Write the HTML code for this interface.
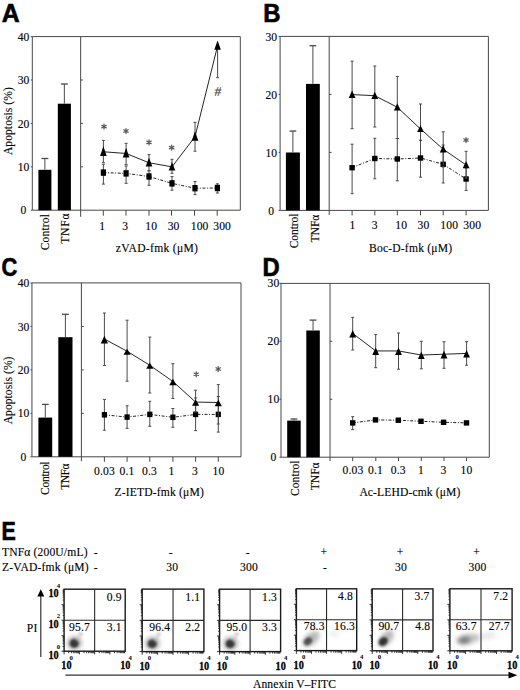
<!DOCTYPE html>
<html><head><meta charset="utf-8"><style>
html,body{margin:0;padding:0;background:#fff;}
body{width:520px;height:690px;overflow:hidden;}
svg{display:block;}
</style></head><body>
<svg width="520" height="690" viewBox="0 0 520 690">
<rect width="520" height="690" fill="#fff"/>
<text transform="translate(1.8 22.2)" font-family="'Liberation Sans',sans-serif" font-size="25" font-weight="bold" stroke="#000" stroke-width="0.6" textLength="17.9" lengthAdjust="spacingAndGlyphs">A</text>
<text transform="translate(263.3 22.2)" font-family="'Liberation Sans',sans-serif" font-size="25" font-weight="bold" stroke="#000" stroke-width="0.6" textLength="17.3" lengthAdjust="spacingAndGlyphs">B</text>
<text transform="translate(1.5 276.2)" font-family="'Liberation Sans',sans-serif" font-size="25" font-weight="bold" stroke="#000" stroke-width="0.6" textLength="15.8" lengthAdjust="spacingAndGlyphs">C</text>
<text transform="translate(262.6 276.4)" font-family="'Liberation Sans',sans-serif" font-size="25" font-weight="bold" stroke="#000" stroke-width="0.6" textLength="17.2" lengthAdjust="spacingAndGlyphs">D</text>
<text transform="translate(1.5 539.6)" font-family="'Liberation Sans',sans-serif" font-size="25" font-weight="bold" stroke="#000" stroke-width="0.6" textLength="14.3" lengthAdjust="spacingAndGlyphs">E</text>
<line x1="32.3" y1="36.6" x2="240.3" y2="36.6" stroke="#484848" stroke-width="1" />
<line x1="32.3" y1="210.2" x2="240.3" y2="210.2" stroke="#484848" stroke-width="1" />
<line x1="32.3" y1="36.6" x2="32.3" y2="210.2" stroke="#484848" stroke-width="1" />
<line x1="240.3" y1="36.6" x2="240.3" y2="210.2" stroke="#484848" stroke-width="1" />
<line x1="80.65" y1="36.6" x2="80.65" y2="216.8" stroke="#484848" stroke-width="1" />
<line x1="30.8" y1="210.2" x2="32.3" y2="210.2" stroke="#484848" stroke-width="1" />
<text transform="translate(23.5 214.3)" font-family="'Liberation Serif',serif" font-size="11.6" text-anchor="middle" stroke="#000" stroke-width="0.12">0</text>
<line x1="30.8" y1="166.8" x2="32.3" y2="166.8" stroke="#484848" stroke-width="1" />
<line x1="80.65" y1="166.8" x2="82.95" y2="166.8" stroke="#484848" stroke-width="1" />
<text transform="translate(23.5 170.9)" font-family="'Liberation Serif',serif" font-size="11.6" text-anchor="middle" stroke="#000" stroke-width="0.12">10</text>
<line x1="30.8" y1="123.4" x2="32.3" y2="123.4" stroke="#484848" stroke-width="1" />
<line x1="80.65" y1="123.4" x2="82.95" y2="123.4" stroke="#484848" stroke-width="1" />
<text transform="translate(23.5 127.5)" font-family="'Liberation Serif',serif" font-size="11.6" text-anchor="middle" stroke="#000" stroke-width="0.12">20</text>
<line x1="30.8" y1="80" x2="32.3" y2="80" stroke="#484848" stroke-width="1" />
<line x1="80.65" y1="80" x2="82.95" y2="80" stroke="#484848" stroke-width="1" />
<text transform="translate(23.5 84.1)" font-family="'Liberation Serif',serif" font-size="11.6" text-anchor="middle" stroke="#000" stroke-width="0.12">30</text>
<line x1="30.8" y1="36.6" x2="32.3" y2="36.6" stroke="#484848" stroke-width="1" />
<text transform="translate(23.5 40.7)" font-family="'Liberation Serif',serif" font-size="11.6" text-anchor="middle" stroke="#000" stroke-width="0.12">40</text>
<text transform="translate(11.7 155.1) rotate(-90)" font-family="'Liberation Serif',serif" font-size="11.6" stroke="#000" stroke-width="0.12" textLength="68" lengthAdjust="spacing">Apoptosis (%)</text>
<rect x="38.4" y="169.8" width="13" height="40.4" fill="#000"/>
<line x1="44.9" y1="158.5" x2="44.9" y2="169.8" stroke="#4a4a4a" stroke-width="1" />
<line x1="41.5" y1="158.5" x2="48.3" y2="158.5" stroke="#4a4a4a" stroke-width="1.3" />
<rect x="57.8" y="103.7" width="13.1" height="106.5" fill="#000"/>
<line x1="64.35" y1="84" x2="64.35" y2="103.7" stroke="#4a4a4a" stroke-width="1" />
<line x1="60.95" y1="84" x2="67.75" y2="84" stroke="#4a4a4a" stroke-width="1.3" />
<text transform="translate(48.8 250.3) rotate(-90)" font-family="'Liberation Serif',serif" font-size="11.6" stroke="#000" stroke-width="0.12" textLength="36.2" lengthAdjust="spacing">Control</text>
<text transform="translate(68.9 243.7) rotate(-90)" font-family="'Liberation Serif',serif" font-size="11.6" stroke="#000" stroke-width="0.12" textLength="30.2" lengthAdjust="spacing">TNFα</text>
<line x1="103.3" y1="210.2" x2="103.3" y2="215.7" stroke="#484848" stroke-width="1" />
<line x1="126" y1="210.2" x2="126" y2="215.7" stroke="#484848" stroke-width="1" />
<line x1="149" y1="210.2" x2="149" y2="215.7" stroke="#484848" stroke-width="1" />
<line x1="171.5" y1="210.2" x2="171.5" y2="215.7" stroke="#484848" stroke-width="1" />
<line x1="194.5" y1="210.2" x2="194.5" y2="215.7" stroke="#484848" stroke-width="1" />
<line x1="217.2" y1="210.2" x2="217.2" y2="215.7" stroke="#484848" stroke-width="1" />
<text transform="translate(102.1 229.6)" font-family="'Liberation Serif',serif" font-size="11.6" text-anchor="middle" stroke="#000" stroke-width="0.12" letter-spacing="0.15">1</text>
<text transform="translate(125.2 229.6)" font-family="'Liberation Serif',serif" font-size="11.6" text-anchor="middle" stroke="#000" stroke-width="0.12" letter-spacing="0.15">3</text>
<text transform="translate(151.3 229.6)" font-family="'Liberation Serif',serif" font-size="11.6" text-anchor="middle" stroke="#000" stroke-width="0.12" letter-spacing="0.15">10</text>
<text transform="translate(173.6 229.6)" font-family="'Liberation Serif',serif" font-size="11.6" text-anchor="middle" stroke="#000" stroke-width="0.12" letter-spacing="0.15">30</text>
<text transform="translate(199.6 229.6)" font-family="'Liberation Serif',serif" font-size="11.6" text-anchor="middle" stroke="#000" stroke-width="0.12" letter-spacing="0.15">100</text>
<text transform="translate(222.1 229.6)" font-family="'Liberation Serif',serif" font-size="11.6" text-anchor="middle" stroke="#000" stroke-width="0.12" letter-spacing="0.15">300</text>
<text transform="translate(115.8 251.8)" font-family="'Liberation Serif',serif" font-size="11.6" stroke="#000" stroke-width="0.12" textLength="82.2" lengthAdjust="spacing">zVAD-fmk (μM)</text>
<polyline points="103.4,172.6 126.1,173.4 149,176.5 172,183.4 195,188.2 217.4,188" fill="none" stroke="#222" stroke-width="1" stroke-dasharray="3 1.6 1 1.6"/>
<line x1="103.4" y1="164.3" x2="103.4" y2="184.1" stroke="#4a4a4a" stroke-width="1" />
<line x1="101.9" y1="164.3" x2="104.9" y2="164.3" stroke="#4a4a4a" stroke-width="1" />
<line x1="101.9" y1="184.1" x2="104.9" y2="184.1" stroke="#4a4a4a" stroke-width="1" />
<line x1="126.1" y1="166" x2="126.1" y2="183.3" stroke="#4a4a4a" stroke-width="1" />
<line x1="124.6" y1="166" x2="127.6" y2="166" stroke="#4a4a4a" stroke-width="1" />
<line x1="124.6" y1="183.3" x2="127.6" y2="183.3" stroke="#4a4a4a" stroke-width="1" />
<line x1="149" y1="170.8" x2="149" y2="185.3" stroke="#4a4a4a" stroke-width="1" />
<line x1="147.5" y1="170.8" x2="150.5" y2="170.8" stroke="#4a4a4a" stroke-width="1" />
<line x1="147.5" y1="185.3" x2="150.5" y2="185.3" stroke="#4a4a4a" stroke-width="1" />
<line x1="172" y1="176.6" x2="172" y2="190.2" stroke="#4a4a4a" stroke-width="1" />
<line x1="170.5" y1="176.6" x2="173.5" y2="176.6" stroke="#4a4a4a" stroke-width="1" />
<line x1="170.5" y1="190.2" x2="173.5" y2="190.2" stroke="#4a4a4a" stroke-width="1" />
<line x1="195" y1="181.5" x2="195" y2="194.6" stroke="#4a4a4a" stroke-width="1" />
<line x1="193.5" y1="181.5" x2="196.5" y2="181.5" stroke="#4a4a4a" stroke-width="1" />
<line x1="193.5" y1="194.6" x2="196.5" y2="194.6" stroke="#4a4a4a" stroke-width="1" />
<line x1="217.4" y1="183.8" x2="217.4" y2="193" stroke="#4a4a4a" stroke-width="1" />
<line x1="215.9" y1="183.8" x2="218.9" y2="183.8" stroke="#4a4a4a" stroke-width="1" />
<line x1="215.9" y1="193" x2="218.9" y2="193" stroke="#4a4a4a" stroke-width="1" />
<rect x="100.8" y="169.4" width="5.2" height="6.4" fill="#000"/>
<rect x="123.5" y="170.2" width="5.2" height="6.4" fill="#000"/>
<rect x="146.4" y="173.3" width="5.2" height="6.4" fill="#000"/>
<rect x="169.4" y="180.2" width="5.2" height="6.4" fill="#000"/>
<rect x="192.4" y="185" width="5.2" height="6.4" fill="#000"/>
<rect x="214.8" y="184.8" width="5.2" height="6.4" fill="#000"/>
<polyline points="103.4,151.77 126.1,153.47 149,162.76 172,166.84 195,136.72 217.6,45.8" fill="none" stroke="#1a1a1a" stroke-width="0.95"/>
<line x1="103.4" y1="140.4" x2="103.4" y2="162.7" stroke="#4a4a4a" stroke-width="1" />
<line x1="101.9" y1="140.4" x2="104.9" y2="140.4" stroke="#4a4a4a" stroke-width="1" />
<line x1="101.9" y1="162.7" x2="104.9" y2="162.7" stroke="#4a4a4a" stroke-width="1" />
<line x1="126.1" y1="143.3" x2="126.1" y2="164.6" stroke="#4a4a4a" stroke-width="1" />
<line x1="124.6" y1="143.3" x2="127.6" y2="143.3" stroke="#4a4a4a" stroke-width="1" />
<line x1="124.6" y1="164.6" x2="127.6" y2="164.6" stroke="#4a4a4a" stroke-width="1" />
<line x1="149" y1="154.6" x2="149" y2="170.7" stroke="#4a4a4a" stroke-width="1" />
<line x1="147.5" y1="154.6" x2="150.5" y2="154.6" stroke="#4a4a4a" stroke-width="1" />
<line x1="147.5" y1="170.7" x2="150.5" y2="170.7" stroke="#4a4a4a" stroke-width="1" />
<line x1="172" y1="159.3" x2="172" y2="173.3" stroke="#4a4a4a" stroke-width="1" />
<line x1="170.5" y1="159.3" x2="173.5" y2="159.3" stroke="#4a4a4a" stroke-width="1" />
<line x1="170.5" y1="173.3" x2="173.5" y2="173.3" stroke="#4a4a4a" stroke-width="1" />
<line x1="195" y1="122.3" x2="195" y2="151.2" stroke="#4a4a4a" stroke-width="1" />
<line x1="193.5" y1="122.3" x2="196.5" y2="122.3" stroke="#4a4a4a" stroke-width="1" />
<line x1="193.5" y1="151.2" x2="196.5" y2="151.2" stroke="#4a4a4a" stroke-width="1" />
<line x1="217.6" y1="45.15" x2="217.6" y2="77.7" stroke="#4a4a4a" stroke-width="1" />
<line x1="216.1" y1="77.7" x2="219.1" y2="77.7" stroke="#4a4a4a" stroke-width="1" />
<polygon points="100.1,155.9 106.7,155.9 103.4,146.3" fill="#000"/>
<polygon points="122.8,157.6 129.4,157.6 126.1,148" fill="#000"/>
<polygon points="145.7,166.5 152.3,166.5 149,157.8" fill="#000"/>
<polygon points="168.7,170.5 175.3,170.5 172,162" fill="#000"/>
<polygon points="191.7,140.8 198.3,140.8 195,131.3" fill="#000"/>
<polygon points="214.3,49.8 220.9,49.8 217.6,40.5" fill="#000"/>
<path d="M104 129.1L104 124.1M101.83 127.85L106.17 125.35M101.83 125.35L106.17 127.85" stroke="#5a5a5a" stroke-width="1.25" stroke-linecap="round" fill="none"/>
<path d="M126 133.5L126 128.5M123.83 132.25L128.17 129.75M123.83 129.75L128.17 132.25" stroke="#5a5a5a" stroke-width="1.25" stroke-linecap="round" fill="none"/>
<path d="M149 144.9L149 139.9M146.83 143.65L151.17 141.15M146.83 141.15L151.17 143.65" stroke="#5a5a5a" stroke-width="1.25" stroke-linecap="round" fill="none"/>
<path d="M171.7 150.1L171.7 145.1M169.53 148.85L173.87 146.35M169.53 146.35L173.87 148.85" stroke="#5a5a5a" stroke-width="1.25" stroke-linecap="round" fill="none"/>
<text transform="translate(217.3 95.6) skewX(-7)" font-family="Liberation Serif" font-size="13.5" text-anchor="middle" fill="#444" stroke="#444" stroke-width="0.15">#</text>
<line x1="280.1" y1="36.4" x2="488.4" y2="36.4" stroke="#484848" stroke-width="1" />
<line x1="280.1" y1="210.4" x2="488.4" y2="210.4" stroke="#484848" stroke-width="1" />
<line x1="280.1" y1="36.4" x2="280.1" y2="210.4" stroke="#484848" stroke-width="1" />
<line x1="488.4" y1="36.4" x2="488.4" y2="210.4" stroke="#484848" stroke-width="1" />
<line x1="329.2" y1="36.4" x2="329.2" y2="214.9" stroke="#484848" stroke-width="1" />
<line x1="278.6" y1="210.4" x2="280.1" y2="210.4" stroke="#484848" stroke-width="1" />
<text transform="translate(271.2 214.5)" font-family="'Liberation Serif',serif" font-size="11.6" text-anchor="middle" stroke="#000" stroke-width="0.12">0</text>
<line x1="278.6" y1="152.4" x2="280.1" y2="152.4" stroke="#484848" stroke-width="1" />
<line x1="329.2" y1="152.4" x2="331.5" y2="152.4" stroke="#484848" stroke-width="1" />
<text transform="translate(271.2 156.5)" font-family="'Liberation Serif',serif" font-size="11.6" text-anchor="middle" stroke="#000" stroke-width="0.12">10</text>
<line x1="278.6" y1="94.4" x2="280.1" y2="94.4" stroke="#484848" stroke-width="1" />
<line x1="329.2" y1="94.4" x2="331.5" y2="94.4" stroke="#484848" stroke-width="1" />
<text transform="translate(271.2 98.5)" font-family="'Liberation Serif',serif" font-size="11.6" text-anchor="middle" stroke="#000" stroke-width="0.12">20</text>
<line x1="278.6" y1="36.4" x2="280.1" y2="36.4" stroke="#484848" stroke-width="1" />
<text transform="translate(271.2 40.5)" font-family="'Liberation Serif',serif" font-size="11.6" text-anchor="middle" stroke="#000" stroke-width="0.12">30</text>
<rect x="285.9" y="152.5" width="14" height="57.9" fill="#000"/>
<line x1="292.9" y1="131.1" x2="292.9" y2="152.5" stroke="#4a4a4a" stroke-width="1" />
<line x1="289.5" y1="131.1" x2="296.3" y2="131.1" stroke="#4a4a4a" stroke-width="1.3" />
<rect x="306" y="83.9" width="13.8" height="126.5" fill="#000"/>
<line x1="312.9" y1="45.7" x2="312.9" y2="83.9" stroke="#4a4a4a" stroke-width="1" />
<line x1="309.5" y1="45.7" x2="316.3" y2="45.7" stroke="#4a4a4a" stroke-width="1.3" />
<text transform="translate(298 248.3) rotate(-90)" font-family="'Liberation Serif',serif" font-size="11.6" stroke="#000" stroke-width="0.12" textLength="34.7" lengthAdjust="spacing">Control</text>
<text transform="translate(318.8 242.5) rotate(-90)" font-family="'Liberation Serif',serif" font-size="11.6" stroke="#000" stroke-width="0.12" textLength="27.9" lengthAdjust="spacing">TNFα</text>
<line x1="352.1" y1="210.4" x2="352.1" y2="215.4" stroke="#484848" stroke-width="1" />
<line x1="374.8" y1="210.4" x2="374.8" y2="215.4" stroke="#484848" stroke-width="1" />
<line x1="397.3" y1="210.4" x2="397.3" y2="215.4" stroke="#484848" stroke-width="1" />
<line x1="420.5" y1="210.4" x2="420.5" y2="215.4" stroke="#484848" stroke-width="1" />
<line x1="443.2" y1="210.4" x2="443.2" y2="215.4" stroke="#484848" stroke-width="1" />
<line x1="466.1" y1="210.4" x2="466.1" y2="215.4" stroke="#484848" stroke-width="1" />
<text transform="translate(352.5 228.8)" font-family="'Liberation Serif',serif" font-size="11.6" text-anchor="middle" stroke="#000" stroke-width="0.12" letter-spacing="0.15">1</text>
<text transform="translate(374.7 228.8)" font-family="'Liberation Serif',serif" font-size="11.6" text-anchor="middle" stroke="#000" stroke-width="0.12" letter-spacing="0.15">3</text>
<text transform="translate(401.2 228.8)" font-family="'Liberation Serif',serif" font-size="11.6" text-anchor="middle" stroke="#000" stroke-width="0.12" letter-spacing="0.15">10</text>
<text transform="translate(423.4 228.8)" font-family="'Liberation Serif',serif" font-size="11.6" text-anchor="middle" stroke="#000" stroke-width="0.12" letter-spacing="0.15">30</text>
<text transform="translate(449.2 228.8)" font-family="'Liberation Serif',serif" font-size="11.6" text-anchor="middle" stroke="#000" stroke-width="0.12" letter-spacing="0.15">100</text>
<text transform="translate(472.2 228.8)" font-family="'Liberation Serif',serif" font-size="11.6" text-anchor="middle" stroke="#000" stroke-width="0.12" letter-spacing="0.15">300</text>
<text transform="translate(369 252.4)" font-family="'Liberation Serif',serif" font-size="11.6" stroke="#000" stroke-width="0.12" textLength="83" lengthAdjust="spacing">Boc-D-fmk (μM)</text>
<polyline points="352.1,167.7 374.8,158.5 397.3,159 420.5,158 443.2,164.3 466.1,179" fill="none" stroke="#222" stroke-width="1" stroke-dasharray="3 1.6 1 1.6"/>
<line x1="352.1" y1="144.2" x2="352.1" y2="193.7" stroke="#4a4a4a" stroke-width="1" />
<line x1="350.6" y1="144.2" x2="353.6" y2="144.2" stroke="#4a4a4a" stroke-width="1" />
<line x1="350.6" y1="193.7" x2="353.6" y2="193.7" stroke="#4a4a4a" stroke-width="1" />
<line x1="374.8" y1="138.3" x2="374.8" y2="178.8" stroke="#4a4a4a" stroke-width="1" />
<line x1="373.3" y1="138.3" x2="376.3" y2="138.3" stroke="#4a4a4a" stroke-width="1" />
<line x1="373.3" y1="178.8" x2="376.3" y2="178.8" stroke="#4a4a4a" stroke-width="1" />
<line x1="397.3" y1="138.5" x2="397.3" y2="180.8" stroke="#4a4a4a" stroke-width="1" />
<line x1="395.8" y1="138.5" x2="398.8" y2="138.5" stroke="#4a4a4a" stroke-width="1" />
<line x1="395.8" y1="180.8" x2="398.8" y2="180.8" stroke="#4a4a4a" stroke-width="1" />
<line x1="420.5" y1="140.4" x2="420.5" y2="177.2" stroke="#4a4a4a" stroke-width="1" />
<line x1="419" y1="140.4" x2="422" y2="140.4" stroke="#4a4a4a" stroke-width="1" />
<line x1="419" y1="177.2" x2="422" y2="177.2" stroke="#4a4a4a" stroke-width="1" />
<line x1="443.2" y1="145" x2="443.2" y2="183" stroke="#4a4a4a" stroke-width="1" />
<line x1="441.7" y1="145" x2="444.7" y2="145" stroke="#4a4a4a" stroke-width="1" />
<line x1="441.7" y1="183" x2="444.7" y2="183" stroke="#4a4a4a" stroke-width="1" />
<line x1="466.1" y1="168" x2="466.1" y2="190.4" stroke="#4a4a4a" stroke-width="1" />
<line x1="464.6" y1="168" x2="467.6" y2="168" stroke="#4a4a4a" stroke-width="1" />
<line x1="464.6" y1="190.4" x2="467.6" y2="190.4" stroke="#4a4a4a" stroke-width="1" />
<rect x="349.4" y="165" width="5.4" height="5.4" fill="#000"/>
<rect x="372.1" y="155.8" width="5.4" height="5.4" fill="#000"/>
<rect x="394.6" y="156.3" width="5.4" height="5.4" fill="#000"/>
<rect x="417.8" y="155.3" width="5.4" height="5.4" fill="#000"/>
<rect x="440.5" y="161.6" width="5.4" height="5.4" fill="#000"/>
<rect x="463.4" y="176.3" width="5.4" height="5.4" fill="#000"/>
<polyline points="352.1,94.57 374.8,95.7 397.3,107.26 420.5,128.98 443.2,149.21 466.1,164.96" fill="none" stroke="#1a1a1a" stroke-width="0.95"/>
<line x1="352.1" y1="61.2" x2="352.1" y2="128.7" stroke="#4a4a4a" stroke-width="1" />
<line x1="350.6" y1="61.2" x2="353.6" y2="61.2" stroke="#4a4a4a" stroke-width="1" />
<line x1="350.6" y1="128.7" x2="353.6" y2="128.7" stroke="#4a4a4a" stroke-width="1" />
<line x1="374.8" y1="66" x2="374.8" y2="127" stroke="#4a4a4a" stroke-width="1" />
<line x1="373.3" y1="66" x2="376.3" y2="66" stroke="#4a4a4a" stroke-width="1" />
<line x1="373.3" y1="127" x2="376.3" y2="127" stroke="#4a4a4a" stroke-width="1" />
<line x1="397.3" y1="76.5" x2="397.3" y2="138.5" stroke="#4a4a4a" stroke-width="1" />
<line x1="395.8" y1="76.5" x2="398.8" y2="76.5" stroke="#4a4a4a" stroke-width="1" />
<line x1="395.8" y1="138.5" x2="398.8" y2="138.5" stroke="#4a4a4a" stroke-width="1" />
<line x1="420.5" y1="104" x2="420.5" y2="140.4" stroke="#4a4a4a" stroke-width="1" />
<line x1="419" y1="104" x2="422" y2="104" stroke="#4a4a4a" stroke-width="1" />
<line x1="419" y1="140.4" x2="422" y2="140.4" stroke="#4a4a4a" stroke-width="1" />
<line x1="443.2" y1="131.8" x2="443.2" y2="167" stroke="#4a4a4a" stroke-width="1" />
<line x1="441.7" y1="131.8" x2="444.7" y2="131.8" stroke="#4a4a4a" stroke-width="1" />
<line x1="441.7" y1="167" x2="444.7" y2="167" stroke="#4a4a4a" stroke-width="1" />
<line x1="466.1" y1="151.3" x2="466.1" y2="178" stroke="#4a4a4a" stroke-width="1" />
<line x1="464.6" y1="151.3" x2="467.6" y2="151.3" stroke="#4a4a4a" stroke-width="1" />
<line x1="464.6" y1="178" x2="467.6" y2="178" stroke="#4a4a4a" stroke-width="1" />
<polygon points="348.7,97.9 355.5,97.9 352.1,90.5" fill="#000"/>
<polygon points="371.4,98.9 378.2,98.9 374.8,91.8" fill="#000"/>
<polygon points="393.9,110.5 400.7,110.5 397.3,103.3" fill="#000"/>
<polygon points="417.1,132 423.9,132 420.5,125.3" fill="#000"/>
<polygon points="439.8,152.4 446.6,152.4 443.2,145.3" fill="#000"/>
<polygon points="462.7,168.2 469.5,168.2 466.1,161" fill="#000"/>
<path d="M466 142.5L466 137.5M463.83 141.25L468.17 138.75M463.83 138.75L468.17 141.25" stroke="#5a5a5a" stroke-width="1.25" stroke-linecap="round" fill="none"/>
<line x1="31.95" y1="282.9" x2="241" y2="282.9" stroke="#484848" stroke-width="1" />
<line x1="31.95" y1="456.8" x2="241" y2="456.8" stroke="#484848" stroke-width="1" />
<line x1="31.95" y1="282.9" x2="31.95" y2="456.8" stroke="#484848" stroke-width="1" />
<line x1="241" y1="282.9" x2="241" y2="456.8" stroke="#484848" stroke-width="1" />
<line x1="81.4" y1="282.9" x2="81.4" y2="461.1" stroke="#484848" stroke-width="1" />
<line x1="30.45" y1="456.8" x2="31.95" y2="456.8" stroke="#484848" stroke-width="1" />
<text transform="translate(23.5 460.9)" font-family="'Liberation Serif',serif" font-size="11.6" text-anchor="middle" stroke="#000" stroke-width="0.12">0</text>
<line x1="30.45" y1="413.35" x2="31.95" y2="413.35" stroke="#484848" stroke-width="1" />
<line x1="81.4" y1="413.35" x2="83.7" y2="413.35" stroke="#484848" stroke-width="1" />
<text transform="translate(23.5 417.45)" font-family="'Liberation Serif',serif" font-size="11.6" text-anchor="middle" stroke="#000" stroke-width="0.12">10</text>
<line x1="30.45" y1="369.9" x2="31.95" y2="369.9" stroke="#484848" stroke-width="1" />
<line x1="81.4" y1="369.9" x2="83.7" y2="369.9" stroke="#484848" stroke-width="1" />
<text transform="translate(23.5 374)" font-family="'Liberation Serif',serif" font-size="11.6" text-anchor="middle" stroke="#000" stroke-width="0.12">20</text>
<line x1="30.45" y1="326.45" x2="31.95" y2="326.45" stroke="#484848" stroke-width="1" />
<line x1="81.4" y1="326.45" x2="83.7" y2="326.45" stroke="#484848" stroke-width="1" />
<text transform="translate(23.5 330.55)" font-family="'Liberation Serif',serif" font-size="11.6" text-anchor="middle" stroke="#000" stroke-width="0.12">30</text>
<line x1="30.45" y1="283" x2="31.95" y2="283" stroke="#484848" stroke-width="1" />
<text transform="translate(23.5 287.1)" font-family="'Liberation Serif',serif" font-size="11.6" text-anchor="middle" stroke="#000" stroke-width="0.12">40</text>
<text transform="translate(11.7 424.3) rotate(-90)" font-family="'Liberation Serif',serif" font-size="11.6" stroke="#000" stroke-width="0.12" textLength="67.8" lengthAdjust="spacing">Apoptosis (%)</text>
<rect x="38.4" y="417.6" width="13.8" height="39.2" fill="#000"/>
<line x1="45.3" y1="404.4" x2="45.3" y2="417.6" stroke="#4a4a4a" stroke-width="1" />
<line x1="41.9" y1="404.4" x2="48.7" y2="404.4" stroke="#4a4a4a" stroke-width="1.3" />
<rect x="58.3" y="337.2" width="14.2" height="119.6" fill="#000"/>
<line x1="65.4" y1="314.3" x2="65.4" y2="337.2" stroke="#4a4a4a" stroke-width="1" />
<line x1="62" y1="314.3" x2="68.8" y2="314.3" stroke="#4a4a4a" stroke-width="1.3" />
<text transform="translate(48.7 494.9) rotate(-90)" font-family="'Liberation Serif',serif" font-size="11.6" stroke="#000" stroke-width="0.12" textLength="33.5" lengthAdjust="spacing">Control</text>
<text transform="translate(69.4 489.8) rotate(-90)" font-family="'Liberation Serif',serif" font-size="11.6" stroke="#000" stroke-width="0.12" textLength="26.4" lengthAdjust="spacing">TNFα</text>
<line x1="104.4" y1="456.8" x2="104.4" y2="461.8" stroke="#484848" stroke-width="1" />
<line x1="127.1" y1="456.8" x2="127.1" y2="461.8" stroke="#484848" stroke-width="1" />
<line x1="149.8" y1="456.8" x2="149.8" y2="461.8" stroke="#484848" stroke-width="1" />
<line x1="172.9" y1="456.8" x2="172.9" y2="461.8" stroke="#484848" stroke-width="1" />
<line x1="195.6" y1="456.8" x2="195.6" y2="461.8" stroke="#484848" stroke-width="1" />
<line x1="218.3" y1="456.8" x2="218.3" y2="461.8" stroke="#484848" stroke-width="1" />
<text transform="translate(104.5 475.2)" font-family="'Liberation Serif',serif" font-size="11.6" text-anchor="middle" stroke="#000" stroke-width="0.12" letter-spacing="0.15">0.03</text>
<text transform="translate(126.9 475.2)" font-family="'Liberation Serif',serif" font-size="11.6" text-anchor="middle" stroke="#000" stroke-width="0.12" letter-spacing="0.15">0.1</text>
<text transform="translate(149.4 475.2)" font-family="'Liberation Serif',serif" font-size="11.6" text-anchor="middle" stroke="#000" stroke-width="0.12" letter-spacing="0.15">0.3</text>
<text transform="translate(171.5 475.2)" font-family="'Liberation Serif',serif" font-size="11.6" text-anchor="middle" stroke="#000" stroke-width="0.12" letter-spacing="0.15">1</text>
<text transform="translate(195 475.2)" font-family="'Liberation Serif',serif" font-size="11.6" text-anchor="middle" stroke="#000" stroke-width="0.12" letter-spacing="0.15">3</text>
<text transform="translate(218.5 475.2)" font-family="'Liberation Serif',serif" font-size="11.6" text-anchor="middle" stroke="#000" stroke-width="0.12" letter-spacing="0.15">10</text>
<text transform="translate(114.4 496.4)" font-family="'Liberation Serif',serif" font-size="11.6" stroke="#000" stroke-width="0.12" textLength="89.4" lengthAdjust="spacing">Z-IETD-fmk (μM)</text>
<polyline points="104.4,414.8 127.1,417.1 149.8,414.4 172.9,417.3 195.6,414.4 218.3,414.4" fill="none" stroke="#222" stroke-width="1" stroke-dasharray="3 1.6 1 1.6"/>
<line x1="104.4" y1="399.4" x2="104.4" y2="430.2" stroke="#4a4a4a" stroke-width="1" />
<line x1="102.9" y1="399.4" x2="105.9" y2="399.4" stroke="#4a4a4a" stroke-width="1" />
<line x1="102.9" y1="430.2" x2="105.9" y2="430.2" stroke="#4a4a4a" stroke-width="1" />
<line x1="127.1" y1="405.8" x2="127.1" y2="428.3" stroke="#4a4a4a" stroke-width="1" />
<line x1="125.6" y1="405.8" x2="128.6" y2="405.8" stroke="#4a4a4a" stroke-width="1" />
<line x1="125.6" y1="428.3" x2="128.6" y2="428.3" stroke="#4a4a4a" stroke-width="1" />
<line x1="149.8" y1="401.3" x2="149.8" y2="426.3" stroke="#4a4a4a" stroke-width="1" />
<line x1="148.3" y1="401.3" x2="151.3" y2="401.3" stroke="#4a4a4a" stroke-width="1" />
<line x1="148.3" y1="426.3" x2="151.3" y2="426.3" stroke="#4a4a4a" stroke-width="1" />
<line x1="172.9" y1="408.5" x2="172.9" y2="427.3" stroke="#4a4a4a" stroke-width="1" />
<line x1="171.4" y1="408.5" x2="174.4" y2="408.5" stroke="#4a4a4a" stroke-width="1" />
<line x1="171.4" y1="427.3" x2="174.4" y2="427.3" stroke="#4a4a4a" stroke-width="1" />
<line x1="195.6" y1="398" x2="195.6" y2="430.6" stroke="#4a4a4a" stroke-width="1" />
<line x1="194.1" y1="398" x2="197.1" y2="398" stroke="#4a4a4a" stroke-width="1" />
<line x1="194.1" y1="430.6" x2="197.1" y2="430.6" stroke="#4a4a4a" stroke-width="1" />
<line x1="218.3" y1="396.5" x2="218.3" y2="432.1" stroke="#4a4a4a" stroke-width="1" />
<line x1="216.8" y1="396.5" x2="219.8" y2="396.5" stroke="#4a4a4a" stroke-width="1" />
<line x1="216.8" y1="432.1" x2="219.8" y2="432.1" stroke="#4a4a4a" stroke-width="1" />
<rect x="101.8" y="412.05" width="5.2" height="5.5" fill="#000"/>
<rect x="124.5" y="414.35" width="5.2" height="5.5" fill="#000"/>
<rect x="147.2" y="411.65" width="5.2" height="5.5" fill="#000"/>
<rect x="170.3" y="414.55" width="5.2" height="5.5" fill="#000"/>
<rect x="193" y="411.65" width="5.2" height="5.5" fill="#000"/>
<rect x="215.7" y="411.65" width="5.2" height="5.5" fill="#000"/>
<polyline points="104.4,339.03 127.1,351.26 149.8,365.26 172.9,381.49 195.6,402.09 218.3,402.49" fill="none" stroke="#1a1a1a" stroke-width="0.95"/>
<line x1="104.4" y1="313" x2="104.4" y2="365.5" stroke="#4a4a4a" stroke-width="1" />
<line x1="102.9" y1="313" x2="105.9" y2="313" stroke="#4a4a4a" stroke-width="1" />
<line x1="102.9" y1="365.5" x2="105.9" y2="365.5" stroke="#4a4a4a" stroke-width="1" />
<line x1="127.1" y1="320.2" x2="127.1" y2="381.2" stroke="#4a4a4a" stroke-width="1" />
<line x1="125.6" y1="320.2" x2="128.6" y2="320.2" stroke="#4a4a4a" stroke-width="1" />
<line x1="125.6" y1="381.2" x2="128.6" y2="381.2" stroke="#4a4a4a" stroke-width="1" />
<line x1="149.8" y1="337.1" x2="149.8" y2="393" stroke="#4a4a4a" stroke-width="1" />
<line x1="148.3" y1="337.1" x2="151.3" y2="337.1" stroke="#4a4a4a" stroke-width="1" />
<line x1="148.3" y1="393" x2="151.3" y2="393" stroke="#4a4a4a" stroke-width="1" />
<line x1="172.9" y1="363.7" x2="172.9" y2="398.5" stroke="#4a4a4a" stroke-width="1" />
<line x1="171.4" y1="363.7" x2="174.4" y2="363.7" stroke="#4a4a4a" stroke-width="1" />
<line x1="171.4" y1="398.5" x2="174.4" y2="398.5" stroke="#4a4a4a" stroke-width="1" />
<line x1="195.6" y1="390.2" x2="195.6" y2="412" stroke="#4a4a4a" stroke-width="1" />
<line x1="194.1" y1="390.2" x2="197.1" y2="390.2" stroke="#4a4a4a" stroke-width="1" />
<line x1="194.1" y1="412" x2="197.1" y2="412" stroke="#4a4a4a" stroke-width="1" />
<line x1="218.3" y1="384.6" x2="218.3" y2="424" stroke="#4a4a4a" stroke-width="1" />
<line x1="216.8" y1="384.6" x2="219.8" y2="384.6" stroke="#4a4a4a" stroke-width="1" />
<line x1="216.8" y1="424" x2="219.8" y2="424" stroke="#4a4a4a" stroke-width="1" />
<polygon points="100.8,343.5 108,343.5 104.4,335.8" fill="#000"/>
<polygon points="123.5,354.8 130.7,354.8 127.1,348.7" fill="#000"/>
<polygon points="146.2,368.8 153.4,368.8 149.8,362.7" fill="#000"/>
<polygon points="169.3,385.2 176.5,385.2 172.9,378.8" fill="#000"/>
<polygon points="192,405.8 199.2,405.8 195.6,399.4" fill="#000"/>
<polygon points="214.7,406.2 221.9,406.2 218.3,399.8" fill="#000"/>
<path d="M196.2 376.8L196.2 371.8M194.03 375.55L198.37 373.05M194.03 373.05L198.37 375.55" stroke="#5a5a5a" stroke-width="1.25" stroke-linecap="round" fill="none"/>
<path d="M218.2 371.5L218.2 366.5M216.03 370.25L220.37 367.75M216.03 367.75L220.37 370.25" stroke="#5a5a5a" stroke-width="1.25" stroke-linecap="round" fill="none"/>
<line x1="281" y1="283.4" x2="489.3" y2="283.4" stroke="#484848" stroke-width="1" />
<line x1="281" y1="457.2" x2="489.3" y2="457.2" stroke="#484848" stroke-width="1" />
<line x1="281" y1="283.4" x2="281" y2="457.2" stroke="#484848" stroke-width="1" />
<line x1="489.3" y1="283.4" x2="489.3" y2="457.2" stroke="#484848" stroke-width="1" />
<line x1="330" y1="283.4" x2="330" y2="461.1" stroke="#484848" stroke-width="1" />
<line x1="279.5" y1="457.2" x2="281" y2="457.2" stroke="#484848" stroke-width="1" />
<text transform="translate(273.4 461.3)" font-family="'Liberation Serif',serif" font-size="11.6" text-anchor="middle" stroke="#000" stroke-width="0.12">0</text>
<line x1="279.5" y1="399.25" x2="281" y2="399.25" stroke="#484848" stroke-width="1" />
<line x1="330" y1="399.25" x2="332.3" y2="399.25" stroke="#484848" stroke-width="1" />
<text transform="translate(273.4 403.35)" font-family="'Liberation Serif',serif" font-size="11.6" text-anchor="middle" stroke="#000" stroke-width="0.12">10</text>
<line x1="279.5" y1="341.3" x2="281" y2="341.3" stroke="#484848" stroke-width="1" />
<line x1="330" y1="341.3" x2="332.3" y2="341.3" stroke="#484848" stroke-width="1" />
<text transform="translate(273.4 345.4)" font-family="'Liberation Serif',serif" font-size="11.6" text-anchor="middle" stroke="#000" stroke-width="0.12">20</text>
<line x1="279.5" y1="283.35" x2="281" y2="283.35" stroke="#484848" stroke-width="1" />
<text transform="translate(273.4 287.45)" font-family="'Liberation Serif',serif" font-size="11.6" text-anchor="middle" stroke="#000" stroke-width="0.12">30</text>
<rect x="287.2" y="420.6" width="13.5" height="36.6" fill="#000"/>
<line x1="293.95" y1="419" x2="293.95" y2="420.6" stroke="#4a4a4a" stroke-width="1" />
<line x1="290.55" y1="419" x2="297.35" y2="419" stroke="#4a4a4a" stroke-width="1.3" />
<rect x="306.3" y="330.5" width="13.5" height="126.7" fill="#000"/>
<line x1="313.05" y1="320.1" x2="313.05" y2="330.5" stroke="#4a4a4a" stroke-width="1" />
<line x1="309.65" y1="320.1" x2="316.45" y2="320.1" stroke="#4a4a4a" stroke-width="1.3" />
<text transform="translate(299 496) rotate(-90)" font-family="'Liberation Serif',serif" font-size="11.6" stroke="#000" stroke-width="0.12" textLength="35.6" lengthAdjust="spacing">Control</text>
<text transform="translate(318.7 490.2) rotate(-90)" font-family="'Liberation Serif',serif" font-size="11.6" stroke="#000" stroke-width="0.12" textLength="27.9" lengthAdjust="spacing">TNFα</text>
<line x1="352.7" y1="457.2" x2="352.7" y2="461.1" stroke="#484848" stroke-width="1" />
<line x1="375.8" y1="457.2" x2="375.8" y2="461.1" stroke="#484848" stroke-width="1" />
<line x1="398.5" y1="457.2" x2="398.5" y2="461.1" stroke="#484848" stroke-width="1" />
<line x1="421.3" y1="457.2" x2="421.3" y2="461.1" stroke="#484848" stroke-width="1" />
<line x1="444" y1="457.2" x2="444" y2="461.1" stroke="#484848" stroke-width="1" />
<line x1="466.6" y1="457.2" x2="466.6" y2="461.1" stroke="#484848" stroke-width="1" />
<text transform="translate(352.9 473.9)" font-family="'Liberation Serif',serif" font-size="11.6" text-anchor="middle" stroke="#000" stroke-width="0.12" letter-spacing="0.15">0.03</text>
<text transform="translate(375.5 473.9)" font-family="'Liberation Serif',serif" font-size="11.6" text-anchor="middle" stroke="#000" stroke-width="0.12" letter-spacing="0.15">0.1</text>
<text transform="translate(398.3 473.9)" font-family="'Liberation Serif',serif" font-size="11.6" text-anchor="middle" stroke="#000" stroke-width="0.12" letter-spacing="0.15">0.3</text>
<text transform="translate(421 473.9)" font-family="'Liberation Serif',serif" font-size="11.6" text-anchor="middle" stroke="#000" stroke-width="0.12" letter-spacing="0.15">1</text>
<text transform="translate(443.5 473.9)" font-family="'Liberation Serif',serif" font-size="11.6" text-anchor="middle" stroke="#000" stroke-width="0.12" letter-spacing="0.15">3</text>
<text transform="translate(466.5 473.9)" font-family="'Liberation Serif',serif" font-size="11.6" text-anchor="middle" stroke="#000" stroke-width="0.12" letter-spacing="0.15">10</text>
<text transform="translate(359.4 495.8)" font-family="'Liberation Serif',serif" font-size="11.6" stroke="#000" stroke-width="0.12" textLength="100.9" lengthAdjust="spacing">Ac-LEHD-cmk (μM)</text>
<polyline points="352.7,422.9 375.5,419.9 398.3,420.2 421,421.3 443.6,422.3 466.5,422.9" fill="none" stroke="#222" stroke-width="1" stroke-dasharray="3 1.6 1 1.6"/>
<line x1="352.7" y1="416.7" x2="352.7" y2="429.6" stroke="#4a4a4a" stroke-width="1" />
<line x1="351.2" y1="416.7" x2="354.2" y2="416.7" stroke="#4a4a4a" stroke-width="1" />
<line x1="351.2" y1="429.6" x2="354.2" y2="429.6" stroke="#4a4a4a" stroke-width="1" />
<rect x="350" y="420.2" width="5.4" height="5.4" fill="#000"/>
<rect x="372.8" y="417.2" width="5.4" height="5.4" fill="#000"/>
<rect x="395.6" y="417.5" width="5.4" height="5.4" fill="#000"/>
<rect x="418.3" y="418.6" width="5.4" height="5.4" fill="#000"/>
<rect x="440.9" y="419.6" width="5.4" height="5.4" fill="#000"/>
<rect x="463.8" y="420.2" width="5.4" height="5.4" fill="#000"/>
<polyline points="352.7,333.38 375.7,350.93 398.5,350.93 421.3,355.04 444,354.22 466.6,353.42" fill="none" stroke="#1a1a1a" stroke-width="0.95"/>
<line x1="352.7" y1="317.3" x2="352.7" y2="350" stroke="#4a4a4a" stroke-width="1" />
<line x1="351.2" y1="317.3" x2="354.2" y2="317.3" stroke="#4a4a4a" stroke-width="1" />
<line x1="351.2" y1="350" x2="354.2" y2="350" stroke="#4a4a4a" stroke-width="1" />
<line x1="375.7" y1="334.6" x2="375.7" y2="367.7" stroke="#4a4a4a" stroke-width="1" />
<line x1="374.2" y1="334.6" x2="377.2" y2="334.6" stroke="#4a4a4a" stroke-width="1" />
<line x1="374.2" y1="367.7" x2="377.2" y2="367.7" stroke="#4a4a4a" stroke-width="1" />
<line x1="398.5" y1="333" x2="398.5" y2="369.2" stroke="#4a4a4a" stroke-width="1" />
<line x1="397" y1="333" x2="400" y2="333" stroke="#4a4a4a" stroke-width="1" />
<line x1="397" y1="369.2" x2="400" y2="369.2" stroke="#4a4a4a" stroke-width="1" />
<line x1="421.3" y1="341.3" x2="421.3" y2="368.8" stroke="#4a4a4a" stroke-width="1" />
<line x1="419.8" y1="341.3" x2="422.8" y2="341.3" stroke="#4a4a4a" stroke-width="1" />
<line x1="419.8" y1="368.8" x2="422.8" y2="368.8" stroke="#4a4a4a" stroke-width="1" />
<line x1="444" y1="341.7" x2="444" y2="368.3" stroke="#4a4a4a" stroke-width="1" />
<line x1="442.5" y1="341.7" x2="445.5" y2="341.7" stroke="#4a4a4a" stroke-width="1" />
<line x1="442.5" y1="368.3" x2="445.5" y2="368.3" stroke="#4a4a4a" stroke-width="1" />
<line x1="466.6" y1="341.7" x2="466.6" y2="365.2" stroke="#4a4a4a" stroke-width="1" />
<line x1="465.1" y1="341.7" x2="468.1" y2="341.7" stroke="#4a4a4a" stroke-width="1" />
<line x1="465.1" y1="365.2" x2="468.1" y2="365.2" stroke="#4a4a4a" stroke-width="1" />
<polygon points="349.3,337.5 356.1,337.5 352.7,330" fill="#000"/>
<polygon points="372.3,355 379.1,355 375.7,347.6" fill="#000"/>
<polygon points="395.1,355 401.9,355 398.5,347.6" fill="#000"/>
<polygon points="417.9,359 424.7,359 421.3,351.8" fill="#000"/>
<polygon points="440.6,358.4 447.4,358.4 444,350.8" fill="#000"/>
<polygon points="463.2,357.6 470,357.6 466.6,350" fill="#000"/>
<text transform="translate(2 555.8)" font-family="'Liberation Serif',serif" font-size="11.6" stroke="#000" stroke-width="0.12" textLength="85.5" lengthAdjust="spacing">TNFα (200U/mL)</text>
<text transform="translate(2 571.3)" font-family="'Liberation Serif',serif" font-size="11.6" stroke="#000" stroke-width="0.12" textLength="86.7" lengthAdjust="spacing">Z-VAD-fmk (μM)</text>
<text transform="translate(95.7 555.8)" font-family="'Liberation Serif',serif" font-size="11.6" text-anchor="middle" stroke="#000" stroke-width="0.12" letter-spacing="0.15">-</text>
<text transform="translate(95.7 571.3)" font-family="'Liberation Serif',serif" font-size="11.6" text-anchor="middle" stroke="#000" stroke-width="0.12" letter-spacing="0.15">-</text>
<text transform="translate(170.8 555.8)" font-family="'Liberation Serif',serif" font-size="11.6" text-anchor="middle" stroke="#000" stroke-width="0.12" letter-spacing="0.15">-</text>
<text transform="translate(247.7 555.8)" font-family="'Liberation Serif',serif" font-size="11.6" text-anchor="middle" stroke="#000" stroke-width="0.12" letter-spacing="0.15">-</text>
<text transform="translate(323.8 555.8)" font-family="'Liberation Serif',serif" font-size="11.6" text-anchor="middle" stroke="#000" stroke-width="0.12" letter-spacing="0.15">+</text>
<text transform="translate(400 555.8)" font-family="'Liberation Serif',serif" font-size="11.6" text-anchor="middle" stroke="#000" stroke-width="0.12" letter-spacing="0.15">+</text>
<text transform="translate(476.5 555.8)" font-family="'Liberation Serif',serif" font-size="11.6" text-anchor="middle" stroke="#000" stroke-width="0.12" letter-spacing="0.15">+</text>
<text transform="translate(172.3 571.3)" font-family="'Liberation Serif',serif" font-size="11.6" text-anchor="middle" stroke="#000" stroke-width="0.12" letter-spacing="0.15">30</text>
<text transform="translate(249 571.3)" font-family="'Liberation Serif',serif" font-size="11.6" text-anchor="middle" stroke="#000" stroke-width="0.12" letter-spacing="0.15">300</text>
<text transform="translate(325 571.3)" font-family="'Liberation Serif',serif" font-size="11.6" text-anchor="middle" stroke="#000" stroke-width="0.12" letter-spacing="0.15">-</text>
<text transform="translate(401 571.3)" font-family="'Liberation Serif',serif" font-size="11.6" text-anchor="middle" stroke="#000" stroke-width="0.12" letter-spacing="0.15">30</text>
<text transform="translate(477.5 571.3)" font-family="'Liberation Serif',serif" font-size="11.6" text-anchor="middle" stroke="#000" stroke-width="0.12" letter-spacing="0.15">300</text>
<defs><filter id="b1" x="-1" y="-1" width="3" height="3"><feGaussianBlur stdDeviation="1.2"/></filter>
<filter id="b2" x="-1" y="-1" width="3" height="3"><feGaussianBlur stdDeviation="2"/></filter>
<filter id="b3" x="-1" y="-1" width="3" height="3"><feGaussianBlur stdDeviation="3"/></filter></defs>
<ellipse cx="74.5" cy="643.1" rx="7.5" ry="7" fill="#888" fill-opacity="0.6" filter="url(#b2)"/>
<ellipse cx="74.2" cy="643.4" rx="4.5" ry="4.3" fill="#2a2a2a" fill-opacity="0.9" filter="url(#b1)"/>
<ellipse cx="80.7" cy="633.9" rx="2.5" ry="2" fill="#aaa" fill-opacity="0.5" filter="url(#b1)"/>
<ellipse cx="78.2" cy="638.4" rx="3.5" ry="2" fill="#bbb" fill-opacity="0.4" filter="url(#b1)" transform="rotate(-50 78.2 638.4)"/>
<ellipse cx="152.5" cy="643.5" rx="7.5" ry="7" fill="#888" fill-opacity="0.6" filter="url(#b2)"/>
<ellipse cx="152.2" cy="643.8" rx="4.5" ry="4.3" fill="#2a2a2a" fill-opacity="0.9" filter="url(#b1)"/>
<ellipse cx="158.7" cy="634.3" rx="2.5" ry="2" fill="#aaa" fill-opacity="0.5" filter="url(#b1)"/>
<ellipse cx="156.2" cy="638.8" rx="3.5" ry="2" fill="#bbb" fill-opacity="0.4" filter="url(#b1)" transform="rotate(-50 156.2 638.8)"/>
<ellipse cx="230.5" cy="643.5" rx="7.5" ry="7" fill="#888" fill-opacity="0.6" filter="url(#b2)"/>
<ellipse cx="230.2" cy="643.8" rx="4.5" ry="4.3" fill="#2a2a2a" fill-opacity="0.9" filter="url(#b1)"/>
<ellipse cx="236.7" cy="634.3" rx="2.5" ry="2" fill="#aaa" fill-opacity="0.5" filter="url(#b1)"/>
<ellipse cx="234.2" cy="638.8" rx="3.5" ry="2" fill="#bbb" fill-opacity="0.4" filter="url(#b1)" transform="rotate(-50 234.2 638.8)"/>
<ellipse cx="311" cy="639" rx="10" ry="5.5" fill="#888" fill-opacity="0.6" filter="url(#b2)" transform="rotate(-40 311 639)"/>
<ellipse cx="308" cy="641.3" rx="4.5" ry="3.5" fill="#333" fill-opacity="0.8" filter="url(#b1)" transform="rotate(-40 308 641.3)"/>
<ellipse cx="334" cy="634" rx="5" ry="3" fill="#ddd" fill-opacity="0.5" filter="url(#b2)"/>
<ellipse cx="386" cy="638.5" rx="10" ry="5.5" fill="#888" fill-opacity="0.6" filter="url(#b2)" transform="rotate(-50 386 638.5)"/>
<ellipse cx="383.2" cy="641.5" rx="5" ry="4" fill="#222" fill-opacity="0.9" filter="url(#b1)" transform="rotate(-40 383.2 641.5)"/>
<ellipse cx="468" cy="639" rx="12" ry="5" fill="#999" fill-opacity="0.6" filter="url(#b2)" transform="rotate(-10 468 639)"/>
<ellipse cx="464.3" cy="640.3" rx="6" ry="3.5" fill="#555" fill-opacity="0.65" filter="url(#b2)" transform="rotate(-10 464.3 640.3)"/>
<ellipse cx="487" cy="636" rx="9" ry="3.5" fill="#ccc" fill-opacity="0.45" filter="url(#b2)" transform="rotate(-10 487 636)"/>
<rect x="64.1" y="589.2" width="61.1" height="62" fill="none" stroke="#1a1a1a" stroke-width="1.4"/>
<line x1="94.65" y1="589.2" x2="94.65" y2="651.2" stroke="#2a2a2a" stroke-width="1.1" />
<line x1="64.1" y1="620.2" x2="125.2" y2="620.2" stroke="#2a2a2a" stroke-width="1.1" />
<text transform="translate(121.8 600.7)" font-family="'Liberation Serif',serif" font-size="11.6" text-anchor="end" stroke="#000" stroke-width="0.12" letter-spacing="0.15">0.9</text>
<text transform="translate(90 630.8)" font-family="'Liberation Serif',serif" font-size="11.6" text-anchor="end" stroke="#000" stroke-width="0.12" letter-spacing="0.15">95.7</text>
<text transform="translate(121.8 630.8)" font-family="'Liberation Serif',serif" font-size="11.6" text-anchor="end" stroke="#000" stroke-width="0.12" letter-spacing="0.15">3.1</text>
<text transform="translate(61.3 669.3) scale(0.8 1)" font-family="'Liberation Serif',serif" font-size="12.8" font-weight="bold" stroke="#000" stroke-width="0.3">10</text>
<text transform="translate(69.6 659.6)" font-family="'Liberation Serif',serif" font-size="6.7" font-weight="bold">0</text>
<text transform="translate(120.2 669.3) scale(0.8 1)" font-family="'Liberation Serif',serif" font-size="12.8" font-weight="bold" stroke="#000" stroke-width="0.3">10</text>
<text transform="translate(128.5 659.6)" font-family="'Liberation Serif',serif" font-size="6.7" font-weight="bold">4</text>
<path d="M61.5 651.2H64.1M64.1 651.2V654.4M62.7 646.53H64.1M68.7 651.2V653.2M62.7 643.8H64.1M71.39 651.2V653.2M62.7 641.87H64.1M73.3 651.2V653.2M62.7 640.37H64.1M74.78 651.2V653.2M62.7 639.14H64.1M75.99 651.2V653.2M62.7 638.1H64.1M77.01 651.2V653.2M62.7 637.2H64.1M77.89 651.2V653.2M62.7 636.41H64.1M78.68 651.2V653.2M61.5 635.7H64.1M79.38 651.2V654.4M62.7 631.03H64.1M83.97 651.2V653.2M62.7 628.3H64.1M86.66 651.2V653.2M62.7 626.37H64.1M88.57 651.2V653.2M62.7 624.87H64.1M90.05 651.2V653.2M62.7 623.64H64.1M91.26 651.2V653.2M62.7 622.6H64.1M92.28 651.2V653.2M62.7 621.7H64.1M93.17 651.2V653.2M62.7 620.91H64.1M93.95 651.2V653.2M61.5 620.2H64.1M94.65 651.2V654.4M62.7 615.53H64.1M99.25 651.2V653.2M62.7 612.8H64.1M101.94 651.2V653.2M62.7 610.87H64.1M103.85 651.2V653.2M62.7 609.37H64.1M105.33 651.2V653.2M62.7 608.14H64.1M106.54 651.2V653.2M62.7 607.1H64.1M107.56 651.2V653.2M62.7 606.2H64.1M108.44 651.2V653.2M62.7 605.41H64.1M109.23 651.2V653.2M61.5 604.7H64.1M109.92 651.2V654.4M62.7 600.03H64.1M114.52 651.2V653.2M62.7 597.3H64.1M117.21 651.2V653.2M62.7 595.37H64.1M119.12 651.2V653.2M62.7 593.87H64.1M120.6 651.2V653.2M62.7 592.64H64.1M121.81 651.2V653.2M62.7 591.6H64.1M122.83 651.2V653.2M62.7 590.7H64.1M123.72 651.2V653.2M62.7 589.91H64.1M124.5 651.2V653.2" stroke="#222" stroke-width="0.9" fill="none"/>
<rect x="142.2" y="589.1" width="61.7" height="62.5" fill="none" stroke="#1a1a1a" stroke-width="1.4"/>
<line x1="173.05" y1="589.1" x2="173.05" y2="651.6" stroke="#2a2a2a" stroke-width="1.1" />
<line x1="142.2" y1="620.35" x2="203.9" y2="620.35" stroke="#2a2a2a" stroke-width="1.1" />
<text transform="translate(200.3 600.6)" font-family="'Liberation Serif',serif" font-size="11.6" text-anchor="end" stroke="#000" stroke-width="0.12" letter-spacing="0.15">1.1</text>
<text transform="translate(170.2 630.95)" font-family="'Liberation Serif',serif" font-size="11.6" text-anchor="end" stroke="#000" stroke-width="0.12" letter-spacing="0.15">96.4</text>
<text transform="translate(200.3 630.95)" font-family="'Liberation Serif',serif" font-size="11.6" text-anchor="end" stroke="#000" stroke-width="0.12" letter-spacing="0.15">2.2</text>
<text transform="translate(139.4 669.7) scale(0.8 1)" font-family="'Liberation Serif',serif" font-size="12.8" font-weight="bold" stroke="#000" stroke-width="0.3">10</text>
<text transform="translate(147.7 660)" font-family="'Liberation Serif',serif" font-size="6.7" font-weight="bold">0</text>
<text transform="translate(198.9 669.7) scale(0.8 1)" font-family="'Liberation Serif',serif" font-size="12.8" font-weight="bold" stroke="#000" stroke-width="0.3">10</text>
<text transform="translate(207.2 660)" font-family="'Liberation Serif',serif" font-size="6.7" font-weight="bold">4</text>
<path d="M139.6 651.6H142.2M142.2 651.6V654.8M140.8 646.9H142.2M146.84 651.6V653.6M140.8 644.14H142.2M149.56 651.6V653.6M140.8 642.19H142.2M151.49 651.6V653.6M140.8 640.68H142.2M152.98 651.6V653.6M140.8 639.44H142.2M154.2 651.6V653.6M140.8 638.4H142.2M155.24 651.6V653.6M140.8 637.49H142.2M156.13 651.6V653.6M140.8 636.69H142.2M156.92 651.6V653.6M139.6 635.98H142.2M157.62 651.6V654.8M140.8 631.27H142.2M162.27 651.6V653.6M140.8 628.52H142.2M164.98 651.6V653.6M140.8 626.57H142.2M166.91 651.6V653.6M140.8 625.05H142.2M168.41 651.6V653.6M140.8 623.82H142.2M169.63 651.6V653.6M140.8 622.77H142.2M170.66 651.6V653.6M140.8 621.86H142.2M171.56 651.6V653.6M140.8 621.06H142.2M172.34 651.6V653.6M139.6 620.35H142.2M173.05 651.6V654.8M140.8 615.65H142.2M177.69 651.6V653.6M140.8 612.89H142.2M180.41 651.6V653.6M140.8 610.94H142.2M182.34 651.6V653.6M140.8 609.43H142.2M183.83 651.6V653.6M140.8 608.19H142.2M185.05 651.6V653.6M140.8 607.15H142.2M186.09 651.6V653.6M140.8 606.24H142.2M186.98 651.6V653.6M140.8 605.44H142.2M187.77 651.6V653.6M139.6 604.73H142.2M188.47 651.6V654.8M140.8 600.02H142.2M193.12 651.6V653.6M140.8 597.27H142.2M195.83 651.6V653.6M140.8 595.32H142.2M197.76 651.6V653.6M140.8 593.8H142.2M199.26 651.6V653.6M140.8 592.57H142.2M200.48 651.6V653.6M140.8 591.52H142.2M201.51 651.6V653.6M140.8 590.61H142.2M202.41 651.6V653.6M140.8 589.81H142.2M203.19 651.6V653.6" stroke="#222" stroke-width="0.9" fill="none"/>
<rect x="219.6" y="589.2" width="61" height="62.4" fill="none" stroke="#1a1a1a" stroke-width="1.4"/>
<line x1="250.1" y1="589.2" x2="250.1" y2="651.6" stroke="#2a2a2a" stroke-width="1.1" />
<line x1="219.6" y1="620.4" x2="280.6" y2="620.4" stroke="#2a2a2a" stroke-width="1.1" />
<text transform="translate(277 600.7)" font-family="'Liberation Serif',serif" font-size="11.6" text-anchor="end" stroke="#000" stroke-width="0.12" letter-spacing="0.15">1.3</text>
<text transform="translate(247.3 631)" font-family="'Liberation Serif',serif" font-size="11.6" text-anchor="end" stroke="#000" stroke-width="0.12" letter-spacing="0.15">95.0</text>
<text transform="translate(277 631)" font-family="'Liberation Serif',serif" font-size="11.6" text-anchor="end" stroke="#000" stroke-width="0.12" letter-spacing="0.15">3.3</text>
<text transform="translate(216.8 669.7) scale(0.8 1)" font-family="'Liberation Serif',serif" font-size="12.8" font-weight="bold" stroke="#000" stroke-width="0.3">10</text>
<text transform="translate(225.1 660)" font-family="'Liberation Serif',serif" font-size="6.7" font-weight="bold">0</text>
<text transform="translate(275.6 669.7) scale(0.8 1)" font-family="'Liberation Serif',serif" font-size="12.8" font-weight="bold" stroke="#000" stroke-width="0.3">10</text>
<text transform="translate(283.9 660)" font-family="'Liberation Serif',serif" font-size="6.7" font-weight="bold">4</text>
<path d="M217 651.6H219.6M219.6 651.6V654.8M218.2 646.9H219.6M224.19 651.6V653.6M218.2 644.16H219.6M226.88 651.6V653.6M218.2 642.21H219.6M228.78 651.6V653.6M218.2 640.7H219.6M230.26 651.6V653.6M218.2 639.46H219.6M231.47 651.6V653.6M218.2 638.42H219.6M232.49 651.6V653.6M218.2 637.51H219.6M233.37 651.6V653.6M218.2 636.71H219.6M234.15 651.6V653.6M217 636H219.6M234.85 651.6V654.8M218.2 631.3H219.6M239.44 651.6V653.6M218.2 628.56H219.6M242.13 651.6V653.6M218.2 626.61H219.6M244.03 651.6V653.6M218.2 625.1H219.6M245.51 651.6V653.6M218.2 623.86H219.6M246.72 651.6V653.6M218.2 622.82H219.6M247.74 651.6V653.6M218.2 621.91H219.6M248.62 651.6V653.6M218.2 621.11H219.6M249.4 651.6V653.6M217 620.4H219.6M250.1 651.6V654.8M218.2 615.7H219.6M254.69 651.6V653.6M218.2 612.96H219.6M257.38 651.6V653.6M218.2 611.01H219.6M259.28 651.6V653.6M218.2 609.5H219.6M260.76 651.6V653.6M218.2 608.26H219.6M261.97 651.6V653.6M218.2 607.22H219.6M262.99 651.6V653.6M218.2 606.31H219.6M263.87 651.6V653.6M218.2 605.51H219.6M264.65 651.6V653.6M217 604.8H219.6M265.35 651.6V654.8M218.2 600.1H219.6M269.94 651.6V653.6M218.2 597.36H219.6M272.63 651.6V653.6M218.2 595.41H219.6M274.53 651.6V653.6M218.2 593.9H219.6M276.01 651.6V653.6M218.2 592.66H219.6M277.22 651.6V653.6M218.2 591.62H219.6M278.24 651.6V653.6M218.2 590.71H219.6M279.12 651.6V653.6M218.2 589.91H219.6M279.9 651.6V653.6" stroke="#222" stroke-width="0.9" fill="none"/>
<rect x="296.4" y="588.8" width="60.3" height="61.8" fill="none" stroke="#1a1a1a" stroke-width="1.4"/>
<line x1="326.55" y1="588.8" x2="326.55" y2="650.6" stroke="#2a2a2a" stroke-width="1.1" />
<line x1="296.4" y1="619.7" x2="356.7" y2="619.7" stroke="#2a2a2a" stroke-width="1.1" />
<text transform="translate(353 600.3)" font-family="'Liberation Serif',serif" font-size="11.6" text-anchor="end" stroke="#000" stroke-width="0.12" letter-spacing="0.15">4.8</text>
<text transform="translate(324.6 630.3)" font-family="'Liberation Serif',serif" font-size="11.6" text-anchor="end" stroke="#000" stroke-width="0.12" letter-spacing="0.15">78.3</text>
<text transform="translate(354.9 630.3)" font-family="'Liberation Serif',serif" font-size="11.6" text-anchor="end" stroke="#000" stroke-width="0.12" letter-spacing="0.15">16.3</text>
<text transform="translate(293.6 668.7) scale(0.8 1)" font-family="'Liberation Serif',serif" font-size="12.8" font-weight="bold" stroke="#000" stroke-width="0.3">10</text>
<text transform="translate(301.9 659)" font-family="'Liberation Serif',serif" font-size="6.7" font-weight="bold">0</text>
<text transform="translate(351.7 668.7) scale(0.8 1)" font-family="'Liberation Serif',serif" font-size="12.8" font-weight="bold" stroke="#000" stroke-width="0.3">10</text>
<text transform="translate(360 659)" font-family="'Liberation Serif',serif" font-size="6.7" font-weight="bold">4</text>
<path d="M293.8 650.6H296.4M296.4 650.6V653.8M295 645.95H296.4M300.94 650.6V652.6M295 643.23H296.4M303.59 650.6V652.6M295 641.3H296.4M305.48 650.6V652.6M295 639.8H296.4M306.94 650.6V652.6M295 638.58H296.4M308.13 650.6V652.6M295 637.54H296.4M309.14 650.6V652.6M295 636.65H296.4M310.01 650.6V652.6M295 635.86H296.4M310.79 650.6V652.6M293.8 635.15H296.4M311.47 650.6V653.8M295 630.5H296.4M316.01 650.6V652.6M295 627.78H296.4M318.67 650.6V652.6M295 625.85H296.4M320.55 650.6V652.6M295 624.35H296.4M322.01 650.6V652.6M295 623.13H296.4M323.21 650.6V652.6M295 622.09H296.4M324.21 650.6V652.6M295 621.2H296.4M325.09 650.6V652.6M295 620.41H296.4M325.86 650.6V652.6M293.8 619.7H296.4M326.55 650.6V653.8M295 615.05H296.4M331.09 650.6V652.6M295 612.33H296.4M333.74 650.6V652.6M295 610.4H296.4M335.63 650.6V652.6M295 608.9H296.4M337.09 650.6V652.6M295 607.68H296.4M338.28 650.6V652.6M295 606.64H296.4M339.29 650.6V652.6M295 605.75H296.4M340.16 650.6V652.6M295 604.96H296.4M340.94 650.6V652.6M293.8 604.25H296.4M341.62 650.6V653.8M295 599.6H296.4M346.16 650.6V652.6M295 596.88H296.4M348.82 650.6V652.6M295 594.95H296.4M350.7 650.6V652.6M295 593.45H296.4M352.16 650.6V652.6M295 592.23H296.4M353.36 650.6V652.6M295 591.19H296.4M354.36 650.6V652.6M295 590.3H296.4M355.24 650.6V652.6M295 589.51H296.4M356.01 650.6V652.6" stroke="#222" stroke-width="0.9" fill="none"/>
<rect x="372.2" y="588.9" width="60.8" height="61.9" fill="none" stroke="#1a1a1a" stroke-width="1.4"/>
<line x1="402.6" y1="588.9" x2="402.6" y2="650.8" stroke="#2a2a2a" stroke-width="1.1" />
<line x1="372.2" y1="619.85" x2="433" y2="619.85" stroke="#2a2a2a" stroke-width="1.1" />
<text transform="translate(429.5 600.4)" font-family="'Liberation Serif',serif" font-size="11.6" text-anchor="end" stroke="#000" stroke-width="0.12" letter-spacing="0.15">3.7</text>
<text transform="translate(399.3 630.45)" font-family="'Liberation Serif',serif" font-size="11.6" text-anchor="end" stroke="#000" stroke-width="0.12" letter-spacing="0.15">90.7</text>
<text transform="translate(430.2 630.45)" font-family="'Liberation Serif',serif" font-size="11.6" text-anchor="end" stroke="#000" stroke-width="0.12" letter-spacing="0.15">4.8</text>
<text transform="translate(369.4 668.9) scale(0.8 1)" font-family="'Liberation Serif',serif" font-size="12.8" font-weight="bold" stroke="#000" stroke-width="0.3">10</text>
<text transform="translate(377.7 659.2)" font-family="'Liberation Serif',serif" font-size="6.7" font-weight="bold">0</text>
<text transform="translate(428 668.9) scale(0.8 1)" font-family="'Liberation Serif',serif" font-size="12.8" font-weight="bold" stroke="#000" stroke-width="0.3">10</text>
<text transform="translate(436.3 659.2)" font-family="'Liberation Serif',serif" font-size="6.7" font-weight="bold">4</text>
<path d="M369.6 650.8H372.2M372.2 650.8V654M370.8 646.14H372.2M376.78 650.8V652.8M370.8 643.42H372.2M379.45 650.8V652.8M370.8 641.48H372.2M381.35 650.8V652.8M370.8 639.98H372.2M382.82 650.8V652.8M370.8 638.76H372.2M384.03 650.8V652.8M370.8 637.72H372.2M385.05 650.8V652.8M370.8 636.82H372.2M385.93 650.8V652.8M370.8 636.03H372.2M386.7 650.8V652.8M369.6 635.32H372.2M387.4 650.8V654M370.8 630.67H372.2M391.98 650.8V652.8M370.8 627.94H372.2M394.65 650.8V652.8M370.8 626.01H372.2M396.55 650.8V652.8M370.8 624.51H372.2M398.02 650.8V652.8M370.8 623.28H372.2M399.23 650.8V652.8M370.8 622.25H372.2M400.25 650.8V652.8M370.8 621.35H372.2M401.13 650.8V652.8M370.8 620.56H372.2M401.9 650.8V652.8M369.6 619.85H372.2M402.6 650.8V654M370.8 615.19H372.2M407.18 650.8V652.8M370.8 612.47H372.2M409.85 650.8V652.8M370.8 610.53H372.2M411.75 650.8V652.8M370.8 609.03H372.2M413.22 650.8V652.8M370.8 607.81H372.2M414.43 650.8V652.8M370.8 606.77H372.2M415.45 650.8V652.8M370.8 605.87H372.2M416.33 650.8V652.8M370.8 605.08H372.2M417.1 650.8V652.8M369.6 604.38H372.2M417.8 650.8V654M370.8 599.72H372.2M422.38 650.8V652.8M370.8 596.99H372.2M425.05 650.8V652.8M370.8 595.06H372.2M426.95 650.8V652.8M370.8 593.56H372.2M428.42 650.8V652.8M370.8 592.33H372.2M429.63 650.8V652.8M370.8 591.3H372.2M430.65 650.8V652.8M370.8 590.4H372.2M431.53 650.8V652.8M370.8 589.61H372.2M432.3 650.8V652.8" stroke="#222" stroke-width="0.9" fill="none"/>
<rect x="449.9" y="588.8" width="62.2" height="62" fill="none" stroke="#1a1a1a" stroke-width="1.4"/>
<line x1="481" y1="588.8" x2="481" y2="650.8" stroke="#2a2a2a" stroke-width="1.1" />
<line x1="449.9" y1="619.8" x2="512.1" y2="619.8" stroke="#2a2a2a" stroke-width="1.1" />
<text transform="translate(508.3 600.3)" font-family="'Liberation Serif',serif" font-size="11.6" text-anchor="end" stroke="#000" stroke-width="0.12" letter-spacing="0.15">7.2</text>
<text transform="translate(476.6 630.4)" font-family="'Liberation Serif',serif" font-size="11.6" text-anchor="end" stroke="#000" stroke-width="0.12" letter-spacing="0.15">63.7</text>
<text transform="translate(509.6 630.4)" font-family="'Liberation Serif',serif" font-size="11.6" text-anchor="end" stroke="#000" stroke-width="0.12" letter-spacing="0.15">27.7</text>
<text transform="translate(447.1 668.9) scale(0.8 1)" font-family="'Liberation Serif',serif" font-size="12.8" font-weight="bold" stroke="#000" stroke-width="0.3">10</text>
<text transform="translate(455.4 659.2)" font-family="'Liberation Serif',serif" font-size="6.7" font-weight="bold">0</text>
<text transform="translate(507.1 668.9) scale(0.8 1)" font-family="'Liberation Serif',serif" font-size="12.8" font-weight="bold" stroke="#000" stroke-width="0.3">10</text>
<text transform="translate(515.4 659.2)" font-family="'Liberation Serif',serif" font-size="6.7" font-weight="bold">4</text>
<path d="M447.3 650.8H449.9M449.9 650.8V654M448.5 646.13H449.9M454.58 650.8V652.8M448.5 643.4H449.9M457.32 650.8V652.8M448.5 641.47H449.9M459.26 650.8V652.8M448.5 639.97H449.9M460.77 650.8V652.8M448.5 638.74H449.9M462 650.8V652.8M448.5 637.7H449.9M463.04 650.8V652.8M448.5 636.8H449.9M463.94 650.8V652.8M448.5 636.01H449.9M464.74 650.8V652.8M447.3 635.3H449.9M465.45 650.8V654M448.5 630.63H449.9M470.13 650.8V652.8M448.5 627.9H449.9M472.87 650.8V652.8M448.5 625.97H449.9M474.81 650.8V652.8M448.5 624.47H449.9M476.32 650.8V652.8M448.5 623.24H449.9M477.55 650.8V652.8M448.5 622.2H449.9M478.59 650.8V652.8M448.5 621.3H449.9M479.49 650.8V652.8M448.5 620.51H449.9M480.29 650.8V652.8M447.3 619.8H449.9M481 650.8V654M448.5 615.13H449.9M485.68 650.8V652.8M448.5 612.4H449.9M488.42 650.8V652.8M448.5 610.47H449.9M490.36 650.8V652.8M448.5 608.97H449.9M491.87 650.8V652.8M448.5 607.74H449.9M493.1 650.8V652.8M448.5 606.7H449.9M494.14 650.8V652.8M448.5 605.8H449.9M495.04 650.8V652.8M448.5 605.01H449.9M495.84 650.8V652.8M447.3 604.3H449.9M496.55 650.8V654M448.5 599.63H449.9M501.23 650.8V652.8M448.5 596.9H449.9M503.97 650.8V652.8M448.5 594.97H449.9M505.91 650.8V652.8M448.5 593.47H449.9M507.42 650.8V652.8M448.5 592.24H449.9M508.65 650.8V652.8M448.5 591.2H449.9M509.69 650.8V652.8M448.5 590.3H449.9M510.59 650.8V652.8M448.5 589.51H449.9M511.39 650.8V652.8" stroke="#222" stroke-width="0.9" fill="none"/>
<text transform="translate(48.4 597.2) scale(0.8 1)" font-family="'Liberation Serif',serif" font-size="12.8" font-weight="bold" stroke="#000" stroke-width="0.3">10</text>
<text transform="translate(56.7 587.5)" font-family="'Liberation Serif',serif" font-size="6.7" font-weight="bold">4</text>
<text transform="translate(48.4 628.1) scale(0.8 1)" font-family="'Liberation Serif',serif" font-size="12.8" font-weight="bold" stroke="#000" stroke-width="0.3">10</text>
<text transform="translate(56.7 618.4)" font-family="'Liberation Serif',serif" font-size="6.7" font-weight="bold">2</text>
<text transform="translate(48.4 659) scale(0.8 1)" font-family="'Liberation Serif',serif" font-size="12.8" font-weight="bold" stroke="#000" stroke-width="0.3">10</text>
<text transform="translate(56.7 649.3)" font-family="'Liberation Serif',serif" font-size="6.7" font-weight="bold">0</text>
<line x1="40.8" y1="596" x2="40.8" y2="657" stroke="#333" stroke-width="1.2" />
<polygon points="37.3,596.6 44.3,596.6 40.8,589.2" fill="#000"/>
<text transform="translate(26.8 632)" font-family="'Liberation Serif',serif" font-size="11.6" stroke="#000" stroke-width="0.12" letter-spacing="0.15">PI</text>
<line x1="65.4" y1="675.2" x2="509" y2="675.2" stroke="#333" stroke-width="1.2" />
<polygon points="508.5,671.8 508.5,678.6 517.3,675.2" fill="#000"/>
<text transform="translate(253 687.7)" font-family="'Liberation Serif',serif" font-size="11.6" stroke="#000" stroke-width="0.12" textLength="83" lengthAdjust="spacing">Annexin V–FITC</text>
</svg>
</body></html>
